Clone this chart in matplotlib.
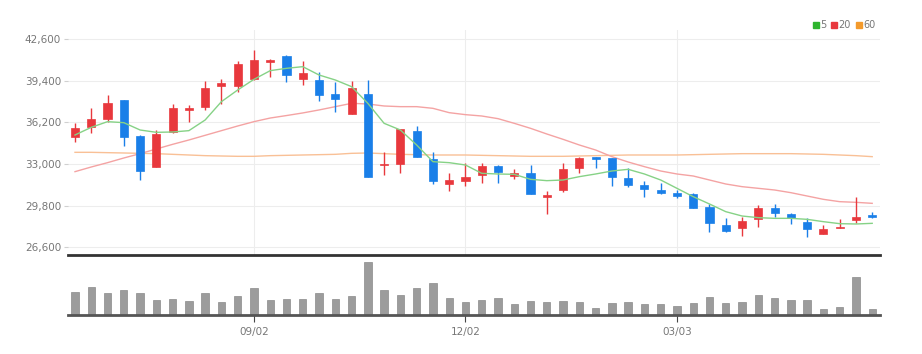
import numpy as np
import matplotlib
matplotlib.use('Agg')
import matplotlib.pyplot as plt
from matplotlib.lines import Line2D

plt.rcParams['font.family'] = ['Liberation Sans Narrow', 'DejaVu Sans']

# candle data
opens = [35048, 35816, 36430, 37915, 35150, 32769, 35457, 37121, 37377, 38990, 39016, 39528,
         40859, 41294, 39502, 39451, 38376, 36814, 38376, 32897, 32974, 35560, 33358, 31438, 31720,
         32155, 32846, 32078, 32334, 30491, 31003, 32718, 33512, 33435, 31899, 31387, 31003,
         30798, 30696, 29672, 28315, 28059, 28776, 29646, 29134, 28571, 27624, 28059, 28699, 29057]
closes = [35739, 36430, 37659, 35099, 32462, 35278, 37301, 37301, 38862, 39246, 40680, 40987,
          40987, 39835, 39963, 38299, 37966, 38811, 32027, 33000, 35662, 33512, 31720, 31771, 31976,
          32846, 32360, 32283, 30696, 30619, 32590, 33435, 33409, 31976, 31387, 31054, 30798,
          30542, 29595, 28443, 27880, 28648, 29646, 29262, 28827, 27982, 27982, 28187, 28955, 28955]
highs = [36174, 37275, 38299, 37915, 35227, 35611, 37582, 37531, 39400, 39502, 40936, 41755,
         41038, 41371, 40936, 40040, 39323, 39400, 39451, 33896, 35662, 35918, 33947, 32334, 33102,
         33102, 32923, 32590, 32923, 30952, 33102, 33563, 33563, 33435, 32667, 31720, 31515,
         31003, 30798, 29928, 28827, 28904, 29851, 29928, 29262, 28827, 28315, 28750, 30491, 29339]
lows = [34715, 35406, 36251, 34382, 31771, 32769, 35355, 36251, 37147, 37608, 38555, 39451,
        39707, 39323, 39067, 37864, 37019, 36814, 31976, 32155, 32334, 33512, 31464, 30952, 31310,
        31515, 31566, 31822, 30696, 29160, 30875, 32283, 32718, 31310, 31208, 30440, 30696,
        30363, 29595, 27803, 27803, 27470, 28187, 28955, 28392, 27419, 27624, 28059, 28443, 28827]

ma5 = [35227, 35816, 36251, 36174, 35611, 35432, 35457, 35560, 36379, 37787, 38683, 39502,
       40168, 40347, 40475, 39835, 39451, 38939, 37659, 36123, 35611, 34459, 33179, 33102, 32923,
       32283, 32232, 32206, 31822, 31720, 31771, 32027, 32232, 32462, 32590, 32232, 31771,
       31131, 30491, 29928, 29339, 29006, 28878, 28827, 28827, 28750, 28571, 28417, 28392, 28443]
ma20 = [32411, 32770, 33102, 33461, 33794, 34152, 34510, 34843, 35202, 35560, 35918, 36251,
        36530, 36720, 36920, 37150, 37403, 37659, 37608, 37454, 37403, 37403, 37275, 36942, 36789,
        36686, 36482, 36123, 35739, 35304, 34894, 34459, 34075, 33563, 33153, 32795, 32462,
        32232, 32078, 31771, 31464, 31259, 31131, 31003, 30798, 30542, 30286, 30107, 30056, 29979]
ma60 = [33896, 33896, 33870, 33845, 33819, 33793, 33742, 33691, 33640, 33614, 33589, 33589,
        33640, 33665, 33691, 33716, 33742, 33819, 33845, 33793, 33742, 33716, 33691, 33691, 33691,
        33665, 33640, 33614, 33589, 33589, 33589, 33614, 33640, 33665, 33691, 33691, 33691,
        33691, 33716, 33742, 33768, 33793, 33793, 33793, 33793, 33768, 33742, 33691, 33640, 33563]

volume = [70, 85, 65, 75, 67, 45, 47, 43, 65, 40, 57, 80, 45, 47, 47, 65, 47, 57, 158, 75, 60, 80, 95, 52, 38,
          45, 50, 33, 42, 40, 42, 40, 22, 37, 38, 32, 32, 28, 37, 55, 35, 40, 60, 52, 45, 45, 17, 25, 113, 17]

tick_pos = [11, 24, 37]
tick_labels = ['09/02', '12/02', '03/03']
price_ticks = [26600, 29800, 33000, 36200, 39400, 42600]

RED = '#e8383d'
BLUE = '#1a7fe8'

W, H = 922, 354
fig = plt.figure(figsize=(W / 100, H / 100), dpi=100)
ax = fig.add_axes([68 / W, 1 - 255 / H, 812 / W, 225 / H])
axv = fig.add_axes([68 / W, 1 - 315 / H, 812 / W, 57 / H])

x = np.arange(len(opens))
o = np.array(opens)
c = np.array(closes)
up = c >= o
colors = np.where(up, RED, BLUE)

ax.vlines(x, lows, highs, colors=colors, lw=1.0, zorder=3)
body = np.maximum(np.abs(c - o), 70)
ax.bar(x, body, bottom=np.minimum(o, c), width=0.5, color=colors, edgecolor=colors, lw=0.5, zorder=4)

ax.plot(x, ma60, color='#f9c096', lw=1.0, zorder=2)
ax.plot(x, ma20, color='#f4a3a3', lw=1.0, zorder=2)
ax.plot(x, ma5, color='#86d286', lw=1.0, zorder=5)

ax.set_xlim(-0.43, 49.48)
ax.set_ylim(26011, 43290)
ax.set_yticks(price_ticks)
ax.set_yticklabels([f'{p:,}' for p in price_ticks])
ax.set_xticks(tick_pos)
ax.tick_params(axis='x', length=0, labelbottom=False)
ax.tick_params(axis='y', length=3, color='#d0d0d0', labelsize=7.5, labelcolor='#777777', pad=2)
ax.grid(True, color='#ededed', lw=0.8, zorder=0)
for s in ['top', 'right', 'left']:
    ax.spines[s].set_visible(False)
ax.spines['bottom'].set_color('#333333')
ax.spines['bottom'].set_linewidth(2)

# volume
axv.bar(x, volume, width=0.45, color='#9c9c9c', edgecolor='#8a8a8a', lw=0.5)
axv.set_xlim(-0.43, 49.48)
axv.set_ylim(0, 171)
axv.set_yticks([])
axv.set_xticks(tick_pos)
axv.set_xticklabels(tick_labels)
axv.tick_params(axis='x', length=5, color='#444444', labelsize=7.5, labelcolor='#777777', pad=4)
for s in ['top', 'right', 'left']:
    axv.spines[s].set_visible(False)
axv.spines['bottom'].set_color('#555555')
axv.spines['bottom'].set_linewidth(2)

handles = [Line2D([], [], marker='s', ls='', color=col, markersize=4.5)
           for col in ['#2fb52f', RED, '#f39a2c']]
fig.legend(handles, ['5', '20', '60'], loc='center right', bbox_to_anchor=(884 / W, 1 - 25 / H),
           ncol=3, frameon=False, fontsize=7, handletextpad=0.05, columnspacing=0.4,
           handlelength=0.8, labelcolor='#777777')

fig.savefig('out.png', dpi=100)
